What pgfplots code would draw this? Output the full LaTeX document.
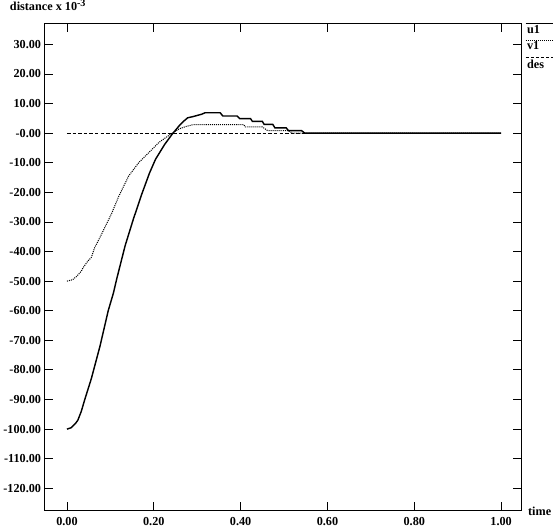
\documentclass[border=0pt]{standalone}
\usepackage{fontspec}
\setmainfont{Liberation Serif}
\usepackage{pgfplots}
\pgfplotsset{compat=1.18}

\begin{document}
\begin{tikzpicture}
\begin{axis}[
  scale only axis, width=469pt, height=479pt,
  xmin=-0.0515, xmax=1.047, ymin=-127.5, ymax=37.1,
  xtick={0,0.2,0.4,0.6,0.8,1},
  xticklabels={0.00,0.20,0.40,0.60,0.80,1.00},
  ytick={-120,-110,-100,-90,-80,-70,-60,-50,-40,-30,-20,-10,0,10,20,30},
  yticklabels={-120.00,-110.00,-100.00,-90.00,-80.00,-70.00,-60.00,-50.00,-40.00,-30.00,-20.00,-10.00,-0.00,10.00,20.00,30.00},
  tick align=inside, xtick pos=both, ytick pos=both,
  xticklabel pos=bottom, yticklabel pos=left,
  major tick length=8pt,
  tick style={black, line width=0.9pt},
  axis line style={black, line width=1.2pt},
  tick label style={font=\fontsize{12}{14}\selectfont\bfseries},
  xticklabel style={yshift=-3pt},
  clip=false,
]
% u1
\addplot[black, line width=1.4pt] coordinates {
 (0,-100) (0.01,-99.5) (0.02,-98) (0.025,-97) (0.033,-94) (0.041,-90)
 (0.056,-83) (0.076,-72) (0.095,-60) (0.107,-54) (0.115,-49) (0.134,-38)
 (0.153,-29) (0.173,-20.3) (0.19,-13.5) (0.204,-8.8) (0.225,-3.8) (0.243,-0.2)
 (0.259,2.6) (0.27,4.2) (0.278,5.2) (0.29,5.6) (0.3,6.0) (0.31,6.4)
 (0.318,6.9) (0.353,6.9) (0.359,5.8) (0.392,5.8) (0.398,4.9) (0.423,4.9)
 (0.427,4.0) (0.45,4.0) (0.454,3.0) (0.474,3.0) (0.479,1.8) (0.505,1.8)
 (0.51,0.9) (0.54,0.9) (0.548,0) (1.0,0)
};
% v1
\addplot[black, line width=1.0pt, dash pattern=on 1pt off 1pt] coordinates {
 (0,-50) (0.013,-49.5) (0.023,-48.3) (0.033,-46.6) (0.037,-45.5) (0.048,-43.2)
 (0.056,-42) (0.064,-38.6) (0.068,-37.5) (0.08,-34) (0.103,-27.1) (0.119,-21.4)
 (0.142,-14.5) (0.165,-10) (0.189,-6.5) (0.212,-3.1) (0.236,-0.6) (0.259,1.5)
 (0.275,2.3) (0.291,2.9) (0.407,2.9) (0.411,2.1) (0.45,2.1) (0.462,0.9)
 (0.509,0.9) (0.52,0) (1.0,0)
};
% des
\addplot[black, line width=0.9pt, dash pattern=on 3.5pt off 2pt] coordinates {
 (0,0) (1.0,0)
};
\node[anchor=west, font=\fontsize{12}{14}\selectfont\bfseries, inner sep=0pt]
  at (axis description cs:-0.073,1.0376) {distance x 10\raisebox{0.6ex}{\fontsize{10}{11}\selectfont\bfseries -3}};
\node[anchor=west, font=\fontsize{12}{14}\selectfont\bfseries, inner sep=0pt]
  at (axis description cs:1.0134,-0.002) {time};
\draw[black, line width=0.9pt] (axis description cs:1.0087,0.9994) -- (axis description cs:1.065,0.9994);
\node[anchor=west, font=\fontsize{12}{14}\selectfont\bfseries, inner sep=0pt]
  at (axis description cs:1.0113,0.9875) {u1};
\draw[black, line width=0.9pt, dash pattern=on 1pt off 1pt] (axis description cs:1.0087,0.9645) -- (axis description cs:1.065,0.9645);
\node[anchor=west, font=\fontsize{12}{14}\selectfont\bfseries, inner sep=0pt]
  at (axis description cs:1.0113,0.954) {v1};
\draw[black, line width=0.9pt, dash pattern=on 3pt off 2pt] (axis description cs:1.0087,0.9297) -- (axis description cs:1.065,0.9297);
\node[anchor=west, font=\fontsize{12}{14}\selectfont\bfseries, inner sep=0pt]
  at (axis description cs:1.0113,0.9158) {des};
\end{axis}
\end{tikzpicture}
\end{document}
